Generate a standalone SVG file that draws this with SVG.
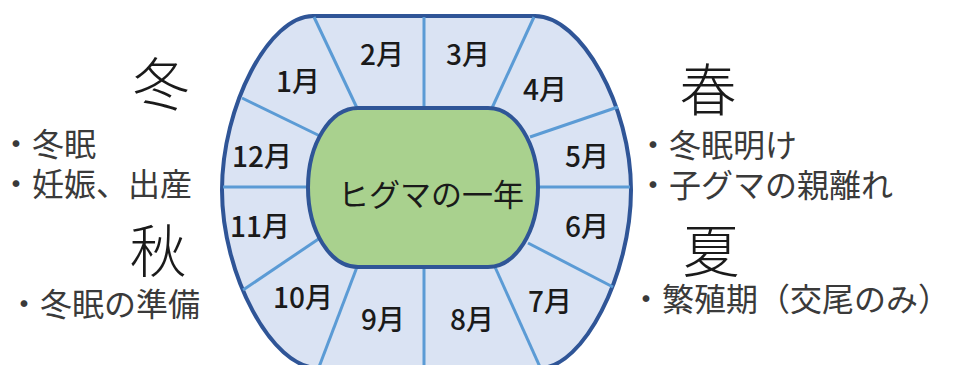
<svg xmlns="http://www.w3.org/2000/svg" width="953" height="365" viewBox="0 0 953 365">
<style>
.t{font-family:"Noto Sans CJK JP","Noto Sans",sans-serif;}
.m{font-size:28px;fill:#1a1a1a;text-anchor:middle;font-weight:500;}
.big{font-size:57px;fill:#1a1a1a;text-anchor:middle;font-weight:300;}
.s{font-size:32px;fill:#3a3a3a;}
.div{stroke:#5b9bd5;stroke-width:3;fill:none;}
</style>
<rect width="953" height="365" fill="#ffffff"/>
<g id="outer">
<path d="M313,16 L535,16 C581,16 631,106 631,190 C631,275 583,368 540,368 L318,368 C272,368 222,275 222,190 C222,106 269,16 313,16 Z" fill="#dae3f3" stroke="#2f5597" stroke-width="4"/>
</g>
<g id="connectors">
<line class="div" x1="424" y1="108" x2="424" y2="17"/>
<line class="div" x1="424" y1="267" x2="424" y2="367"/>
<line class="div" x1="308" y1="187" x2="223" y2="187"/>
<line class="div" x1="538" y1="187" x2="630" y2="187"/>
<line class="div" x1="357" y1="108" x2="314" y2="17"/>
<line class="div" x1="320" y1="136" x2="242" y2="98"/>
<line class="div" x1="492" y1="108" x2="534" y2="17"/>
<line class="div" x1="530" y1="137" x2="618" y2="107"/>
<line class="div" x1="528" y1="243" x2="613" y2="287"/>
<line class="div" x1="495" y1="267" x2="540" y2="367"/>
<line class="div" x1="357" y1="267" x2="319" y2="367"/>
<line class="div" x1="320" y1="238" x2="243" y2="290"/>
</g>
<g id="center">
<rect x="308" y="108" width="230" height="159" rx="50" ry="79.5" fill="#a9d18e" stroke="#2f5597" stroke-width="4"/>
<text class="t" x="431" y="206" font-size="31" fill="#1a1a1a" text-anchor="middle">ヒグマの一年</text>
</g>
<g id="months">
<text class="t m" x="298" y="92">1月</text>
<text class="t m" x="382" y="65">2月</text>
<text class="t m" x="468" y="65">3月</text>
<text class="t m" x="545" y="100">4月</text>
<text class="t m" x="587" y="167">5月</text>
<text class="t m" x="587" y="237">6月</text>
<text class="t m" x="550" y="312">7月</text>
<text class="t m" x="472" y="330">8月</text>
<text class="t m" x="383" y="330">9月</text>
<text class="t m" x="303" y="308">10月</text>
<text class="t m" x="260" y="237">11月</text>
<text class="t m" x="262" y="167">12月</text>
</g>
<g id="winter">
<text class="t big" x="161" y="105">冬</text>
<text class="t s" x="0" y="156">・冬眠</text>
<text class="t s" x="0" y="196">・妊娠、出産</text>
</g>
<g id="autumn">
<text class="t big" x="158" y="272">秋</text>
<text class="t s" x="8" y="316">・冬眠の準備</text>
</g>
<g id="spring">
<text class="t big" x="708" y="111">春</text>
<text class="t s" x="637" y="157">・冬眠明け</text>
<text class="t s" x="637" y="197">・子グマの親離れ</text>
</g>
<g id="summer">
<text class="t big" x="711" y="272">夏</text>
<text class="t s" x="630" y="311" font-size="30">・繁殖期（交尾のみ）</text>
</g>
</svg>
